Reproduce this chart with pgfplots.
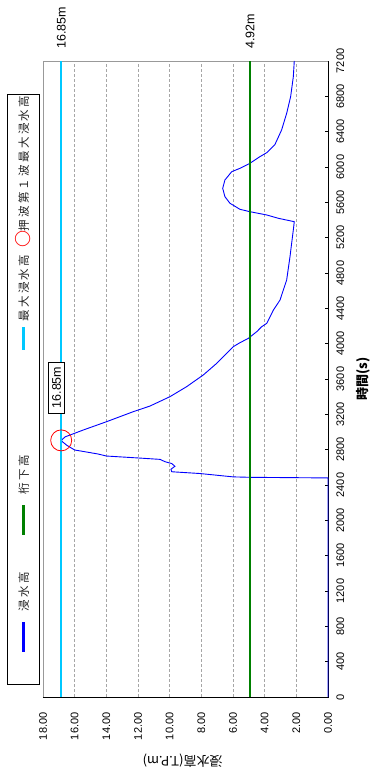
\documentclass[border=0pt]{standalone}
\usepackage{pgfplots}
\pgfplotsset{compat=1.18}
\usepackage{fontspec}
\setmainfont{Liberation Sans}
\newfontfamily\jp{Noto Sans CJK JP}
\newfontfamily\jpls[LetterSpace=20]{Noto Sans CJK JP}
\definecolor{cyanline}{RGB}{0,200,255}
\definecolor{greenline}{RGB}{0,128,0}
\definecolor{blueline}{RGB}{0,0,255}
\begin{document}
\begin{tikzpicture}
\path[use as bounding box] (-43pt,-77pt) rectangle (329pt,697pt);
\begin{axis}[
  scale only axis, width=285pt, height=636pt,
  xmin=0, xmax=18, ymin=0, ymax=7200,
  x dir=reverse,
  clip=false,
  /pgf/number format/assume math mode=true,
  axis line style={gray!80, line width=0.8pt},
  xtick={0,2,...,18},
  ytick={0,400,...,7200},
  xmajorgrids,
  major grid style={gray!70, densely dashed, line width=0.5pt},
  xtick style={draw=none},
  ytick style={black, line width=0.5pt},
  major tick length=3pt,
  tick align=inside,
  ytick pos=right, yticklabel pos=right,
  xticklabel style={rotate=90, anchor=east, font=\fontsize{11}{13}\selectfont,
    /pgf/number format/fixed, /pgf/number format/fixed zerofill, /pgf/number format/precision=2},
  xticklabel shift=12pt,
  yticklabel style={rotate=90, anchor=north, font=\fontsize{11}{13}\selectfont,
    /pgf/number format/1000 sep={}},
  yticklabel shift=5pt,
  every axis x label/.style={at={(axis description cs:0.49,-0.1)}, rotate=180, anchor=center, font=\jp\fontsize{13}{15}\selectfont},
  every axis y label/.style={at={(axis description cs:1.123,0.5)}, rotate=90, anchor=center, font=\jp\bfseries\fontsize{13}{15}\selectfont},
  xlabel={浸水高(T.P.m)},
  ylabel={時間(s)},
]
\draw[black, line width=0.9pt] (axis description cs:0,0) -- (axis description cs:1,0) -- (axis description cs:1,1);
\addplot[blueline, line width=0.9pt] coordinates {
(0,0) (0,2480) (4.92,2487) (6.0,2492) (8.09,2530) (9.87,2550) (9.92,2578)
(9.67,2612) (9.87,2643) (10.3,2664) (10.6,2690) (11.9,2705) (14.0,2728)
(14.5,2750) (15.3,2775) (16.0,2796) (16.5,2850) (16.76,2888) (16.85,2905)
(16.6,2945) (15.45,3023) (13.98,3117) (12.3,3230) (11.24,3294) (9.98,3400)
(8.93,3513) (7.88,3645) (7.03,3777) (5.98,3966) (5.56,4011) (5.03,4060)
(4.5,4136) (4.19,4192) (3.87,4230) (3.45,4381) (3.03,4494) (2.61,4721)
(2.4,4985) (2.19,5287) (2.13,5381) (3.13,5419) (3.87,5457) (4.93,5494)
(5.56,5521) (6.19,5589) (6.51,5664) (6.65,5759) (6.51,5853) (6.08,5947)
(5.56,5985) (4.93,6042) (4.3,6117) (3.87,6162) (3.35,6255) (2.93,6419)
(2.61,6608) (2.36,6796) (2.19,7022) (2.13,7200)
};
\addplot[greenline, line width=2pt] coordinates {(4.92,0) (4.92,7200)};
\addplot[cyanline, line width=2pt] coordinates {(16.85,0) (16.85,7200)};
\addplot[only marks, mark=o, red, mark size=10.5pt, mark options={line width=0.8pt}]
  coordinates {(16.85,2905)};
\node[yshift=9pt, rotate=90, anchor=west, font=\fontsize{12.5}{14}\selectfont] at (axis cs:16.85,7200) {16.85m};
\node[yshift=9pt, rotate=90, anchor=west, font=\fontsize{12.5}{14}\selectfont] at (axis cs:4.92,7200) {4.92m};
\node[draw=black, fill=white, rotate=90, inner xsep=4.5pt, inner ysep=3.5pt, font=\fontsize{12.5}{14}\selectfont] at (axis cs:17.15,3504) {16.85m};
\node[rotate=90, anchor=west, draw=black, line width=0.8pt, fill=white,
  inner xsep=0pt, inner ysep=0pt, minimum height=32pt,
  font=\jpls\fontsize{11.5}{13}\selectfont, text=black!85]
  at (axis description cs:-0.07,0.0189)
  {\makebox[33pt]{}%
   \makebox[40pt][l]{\textcolor{blueline}{\rule[0.3em]{30pt}{2.4pt}}}%
   \makebox[77pt][l]{浸水高}%
   \makebox[40pt][l]{\textcolor{greenline}{\rule[0.3em]{30pt}{2.4pt}}}%
   \makebox[145pt][l]{桁下高}%
   \makebox[28pt][l]{\textcolor{cyanline}{\rule[0.3em]{23pt}{2.4pt}}}%
   \makebox[75pt][l]{最大浸水高}%
   \makebox[15pt][c]{\raisebox{-1.5pt}{\jp\bfseries\fontsize{17}{17}\selectfont\textcolor{red}{○}}}%
   \makebox[137pt][l]{押波第１波最大浸水高}};
\end{axis}
\end{tikzpicture}
\end{document}
